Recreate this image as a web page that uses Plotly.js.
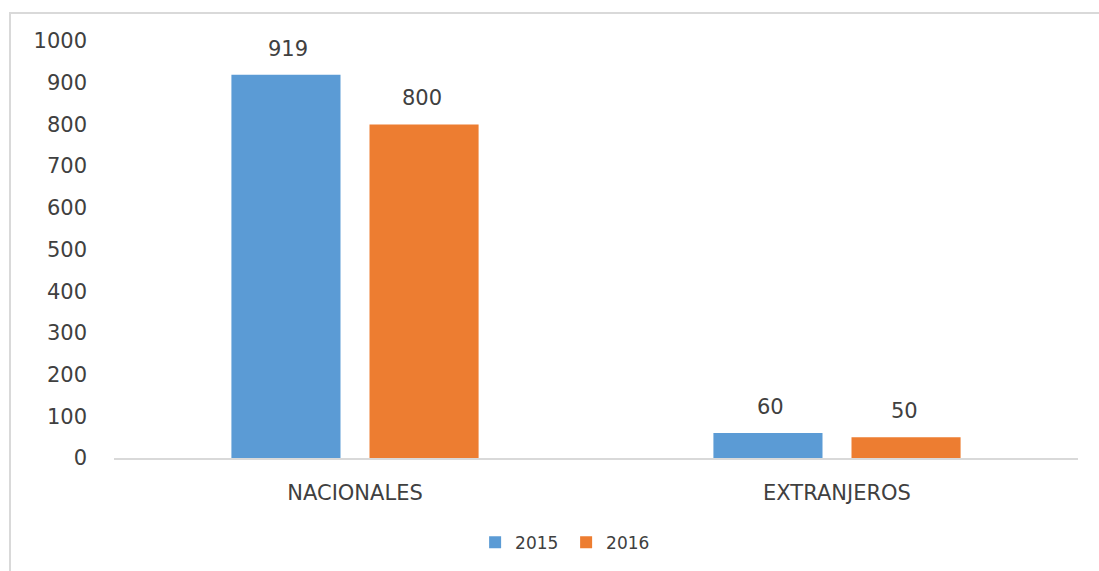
<!DOCTYPE html>
<html>
<head>
<meta charset="utf-8">
<script src="https://cdn.plot.ly/plotly-3.0.1.min.js"></script>
<style>
  html, body { margin: 0; padding: 0; background: #fff; }
  #frame { position: absolute; left: 9px; top: 12px; width: 1200px; height: 700px;
           border-left: 2px solid #D9D9D9; border-top: 2px solid #D9D9D9; box-sizing: border-box; }
  #chart { position: absolute; left: 0; top: 0; width: 1099px; height: 571px; }
</style>
</head>
<body>
<div id="frame"></div>
<div id="chart"></div>
<script>
const categories = ["NACIONALES", "EXTRANJEROS"];
const seriesNames = ["2015", "2016"];
const values2015 = [919, 60];
const values2016 = [800, 50];
const tickValues = [0, 100, 200, 300, 400, 500, 600, 700, 800, 900, 1000];

const colors = ["#5B9BD5", "#ED7D31"];
const fontFam = "DejaVu Sans, Noto Sans, sans-serif";
const textColor = "#404040";

const traces = [
  { type: "bar", name: seriesNames[0], x: categories, y: values2015,
    marker: { color: colors[0] }, hoverinfo: "none" },
  { type: "bar", name: seriesNames[1], x: categories, y: values2016,
    marker: { color: colors[1] }, hoverinfo: "none" }
];

// data labels above bars
const groupOffsets = [-0.139, 0.139];
const annotations = [];
[values2015, values2016].forEach((vals, si) => {
  vals.forEach((v, ci) => {
    annotations.push({
      x: ci + groupOffsets[si], y: v, xref: "x", yref: "y",
      text: String(v), showarrow: false, yanchor: "bottom", yshift: 12,
      font: { family: fontFam, size: 21, color: textColor }
    });
  });
});

const layout = {
  width: 1099, height: 571,
  margin: { l: 114, r: 21, t: 41, b: 112, pad: 0 },
  paper_bgcolor: "rgba(0,0,0,0)", plot_bgcolor: "rgba(0,0,0,0)",
  barmode: "group", bargap: 0.427, bargroupgap: 0.21,
  font: { family: fontFam, color: textColor },
  xaxis: {
    type: "category", showgrid: false, zeroline: false,
    showline: true, linecolor: "#D9D9D9", linewidth: 2,
    ticks: "", tickfont: { family: fontFam, size: 21, color: textColor },
    ticklabelstandoff: 15
  },
  yaxis: {
    range: [0, 1000], tickvals: tickValues, showgrid: false, zeroline: false,
    showline: false, ticks: "", tickfont: { family: fontFam, size: 21, color: textColor },
    ticklabelstandoff: 26
  },
  showlegend: true,
  legend: {
    orientation: "h", x: 0.469, xanchor: "center", xref: "paper",
    y: -0.2, yanchor: "middle",
    font: { family: fontFam, size: 17, color: textColor },
    itemwidth: 30, entrywidth: 46, entrywidthmode: "pixels", traceorder: "normal"
  },
  annotations: annotations
};

Plotly.newPlot("chart", traces, layout, { staticPlot: true, displayModeBar: false });
</script>
</body>
</html>
